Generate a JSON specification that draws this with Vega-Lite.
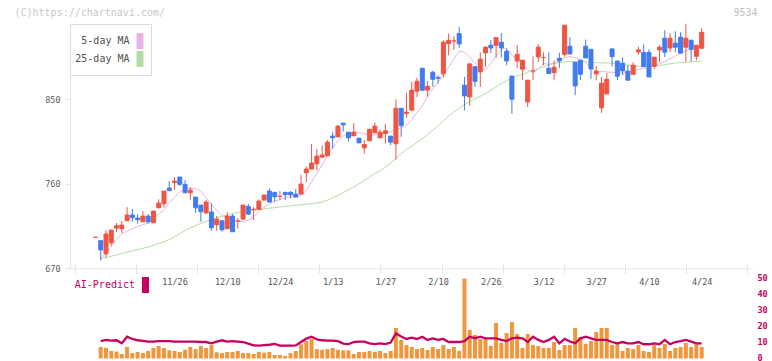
{
  "$schema": "https://vega.github.io/schema/vega-lite/v6.json",
  "width": 682,
  "height": 361,
  "autosize": {"type": "none"},
  "padding": {"left": 70, "top": 0, "right": 20, "bottom": 0},
  "background": "white",
  "config": {"view": {"stroke": null}, "axis": {"grid": false}},
  "data": {"values": [
    {"d":"11/4","i":-15,"o":703,"h":703.5,"l":702.5,"c":703},
    {"d":"11/5","i":-14,"o":699.4,"h":699.4,"l":678.1,"c":689.5,"v":7.2,"ai":10.9,"5-day MA":680.6,"25-day MA":680.5},
    {"d":"11/6","i":-13,"o":685.5,"h":710.7,"l":681.3,"c":706.5,"v":6.6,"ai":11.6,"5-day MA":686,"25-day MA":681.5},
    {"d":"11/7","i":-12,"o":697.2,"h":710.7,"l":694.1,"c":710.7,"v":4.7,"ai":11.2,"5-day MA":693,"25-day MA":682.8},
    {"d":"11/10","i":-11,"o":712.8,"h":718.2,"l":708.3,"c":715.3,"v":4.3,"ai":11.4,"5-day MA":701,"25-day MA":684.3},
    {"d":"11/11","i":-10,"o":712.1,"h":720.3,"l":707.5,"c":716,"v":2.8,"ai":9.5,"5-day MA":706.5,"25-day MA":685.8},
    {"d":"11/12","i":-9,"o":720.6,"h":735.2,"l":720.6,"c":726.7,"v":7.2,"ai":13.6,"5-day MA":709.5,"25-day MA":687.2},
    {"d":"11/13","i":-8,"o":726.7,"h":733,"l":719.5,"c":723.8,"v":3.4,"ai":12.2,"5-day MA":712,"25-day MA":688.5},
    {"d":"11/14","i":-7,"o":723.5,"h":727.7,"l":717.4,"c":721.7,"v":4.1,"ai":11.4,"5-day MA":714.5,"25-day MA":689.8},
    {"d":"11/17","i":-6,"o":719.5,"h":730.9,"l":719.5,"c":725.6,"v":3.4,"ai":11,"5-day MA":716.2,"25-day MA":691.2},
    {"d":"11/18","i":-5,"o":725.6,"h":727.7,"l":717.4,"c":719.5,"v":4.7,"ai":10.6,"5-day MA":718.3,"25-day MA":692.8},
    {"d":"11/19","i":-4,"o":718.5,"h":730.9,"l":718.5,"c":730.9,"v":6.6,"ai":10.6,"5-day MA":722.5,"25-day MA":694.5},
    {"d":"11/20","i":-3,"o":734.4,"h":743.3,"l":734.4,"c":739.4,"v":7.8,"ai":10.8,"5-day MA":727.5,"25-day MA":696.5},
    {"d":"11/21","i":-2,"o":738.7,"h":752.2,"l":734.9,"c":752.2,"v":6.6,"ai":10.8,"5-day MA":732.5,"25-day MA":698.5},
    {"d":"11/25","i":-1,"o":755.4,"h":762.8,"l":752.5,"c":752.5,"v":5.1,"ai":10.8,"5-day MA":739.8,"25-day MA":700.5},
    {"d":"11/26","i":0,"o":761.4,"h":767.1,"l":753.6,"c":762.8,"v":4.7,"ai":10.6,"5-day MA":745.5,"25-day MA":703.5},
    {"d":"11/27","i":1,"o":767.1,"h":767.1,"l":757.8,"c":759.3,"v":4.1,"ai":10.6,"5-day MA":751.2,"25-day MA":707},
    {"d":"11/28","i":2,"o":759.3,"h":763.9,"l":750.4,"c":750.4,"v":5.5,"ai":10.6,"5-day MA":754.2,"25-day MA":710},
    {"d":"12/1","i":3,"o":750.4,"h":756.4,"l":742.9,"c":753.2,"v":7.2,"ai":10.6,"5-day MA":755.1,"25-day MA":713},
    {"d":"12/2","i":4,"o":745.8,"h":745.8,"l":729.1,"c":734.4,"v":5.9,"ai":10.6,"5-day MA":754.7,"25-day MA":715.5},
    {"d":"12/3","i":5,"o":737.3,"h":737.3,"l":719.5,"c":730.2,"v":7.8,"ai":10.3,"5-day MA":751.7,"25-day MA":717.8},
    {"d":"12/4","i":6,"o":728.8,"h":742.6,"l":728.8,"c":740.5,"v":6.6,"ai":10.3,"5-day MA":745,"25-day MA":720},
    {"d":"12/5","i":7,"o":729.9,"h":739.4,"l":710,"c":713.2,"v":8.4,"ai":9.5,"5-day MA":738,"25-day MA":722},
    {"d":"12/8","i":8,"o":716.4,"h":725.6,"l":710,"c":722.4,"v":3.9,"ai":10.6,"5-day MA":731.5,"25-day MA":724},
    {"d":"12/9","i":9,"o":720.6,"h":720.6,"l":708.9,"c":711,"v":3.4,"ai":11.4,"5-day MA":726.2,"25-day MA":725.5},
    {"d":"12/10","i":10,"o":712.1,"h":729.9,"l":712.1,"c":725.6,"v":4.1,"ai":10.6,"5-day MA":723.3,"25-day MA":726.8},
    {"d":"12/11","i":11,"o":725.6,"h":727.7,"l":708.9,"c":708.9,"v":4.1,"ai":10.9,"5-day MA":721,"25-day MA":728.2},
    {"d":"12/12","i":12,"o":720.3,"h":723.5,"l":712.1,"c":720.3,"v":4.7,"ai":10.6,"5-day MA":720,"25-day MA":729.3},
    {"d":"12/15","i":13,"o":722.4,"h":737.3,"l":721.4,"c":737.3,"v":3.4,"ai":10.3,"5-day MA":719.7,"25-day MA":730},
    {"d":"12/16","i":14,"o":735.9,"h":738.4,"l":726.7,"c":727.7,"v":3.4,"ai":9.3,"5-day MA":721,"25-day MA":730.8},
    {"d":"12/17","i":15,"o":732.7,"h":735,"l":721.4,"c":732.7,"v":2.8,"ai":8.2,"5-day MA":725,"25-day MA":731.8},
    {"d":"12/18","i":16,"o":732.7,"h":743.3,"l":732.7,"c":741.5,"v":4.1,"ai":8,"5-day MA":730,"25-day MA":732.6},
    {"d":"12/19","i":17,"o":742.6,"h":748,"l":742.6,"c":748,"v":3.6,"ai":8.4,"5-day MA":735,"25-day MA":733.3},
    {"d":"12/22","i":18,"o":752.2,"h":755.1,"l":740.5,"c":740.5,"v":4.1,"ai":8.6,"5-day MA":738.5,"25-day MA":734},
    {"d":"12/23","i":19,"o":750.8,"h":750.8,"l":740.5,"c":746.1,"v":2.2,"ai":9.1,"5-day MA":741.5,"25-day MA":734.6},
    {"d":"12/24","i":20,"o":746.6,"h":752.2,"l":742.6,"c":746.6,"v":2.2,"ai":8,"5-day MA":743,"25-day MA":735.2},
    {"d":"12/25","i":21,"o":750.8,"h":750.8,"l":742.6,"c":748.3,"v":1.6,"ai":8,"5-day MA":745,"25-day MA":735.8},
    {"d":"12/26","i":22,"o":750.8,"h":752.2,"l":744.4,"c":748.3,"v":3.4,"ai":8,"5-day MA":746,"25-day MA":736.4},
    {"d":"12/29","i":23,"o":749,"h":754.3,"l":745.8,"c":745.8,"v":4.7,"ai":8.2,"5-day MA":746.2,"25-day MA":737},
    {"d":"12/30","i":24,"o":749,"h":769.5,"l":749,"c":759.6,"v":8.9,"ai":10.3,"5-day MA":747.5,"25-day MA":737.6},
    {"d":"1/5","i":25,"o":771.7,"h":778.4,"l":761.8,"c":775.6,"v":10.9,"ai":12.4,"5-day MA":753,"25-day MA":738.2},
    {"d":"1/6","i":26,"o":775.6,"h":802.2,"l":775.6,"c":782,"v":12.2,"ai":13.6,"5-day MA":762,"25-day MA":738.8},
    {"d":"1/7","i":27,"o":781.2,"h":796.9,"l":774.2,"c":789.4,"v":5.9,"ai":12,"5-day MA":771,"25-day MA":739.5},
    {"d":"1/8","i":28,"o":788.3,"h":800.8,"l":788.3,"c":790.5,"v":5.5,"ai":11.4,"5-day MA":780,"25-day MA":740.5},
    {"d":"1/9","i":29,"o":789.7,"h":806.4,"l":789.7,"c":804.3,"v":5.9,"ai":11.2,"5-day MA":790,"25-day MA":742.5},
    {"d":"1/13","i":30,"o":810.7,"h":814.9,"l":797.2,"c":808.9,"v":6.6,"ai":11.2,"5-day MA":798,"25-day MA":745},
    {"d":"1/14","i":31,"o":809.9,"h":822.7,"l":809.9,"c":821.3,"v":5.5,"ai":10.8,"5-day MA":806,"25-day MA":747.5},
    {"d":"1/15","i":32,"o":824.5,"h":824.5,"l":815.6,"c":822.7,"v":5.1,"ai":9.3,"5-day MA":811,"25-day MA":750.5},
    {"d":"1/16","i":33,"o":814.9,"h":814.9,"l":805,"c":808.9,"v":5.1,"ai":9,"5-day MA":813.5,"25-day MA":753.5},
    {"d":"1/19","i":34,"o":811,"h":824.5,"l":811,"c":814.9,"v":2.8,"ai":10.3,"5-day MA":815,"25-day MA":756.5},
    {"d":"1/20","i":35,"o":808.5,"h":808.5,"l":803.5,"c":803.5,"v":4.1,"ai":10.5,"5-day MA":814.5,"25-day MA":760},
    {"d":"1/21","i":36,"o":798.2,"h":806.4,"l":791.9,"c":801.8,"v":4.1,"ai":10.6,"5-day MA":813,"25-day MA":763.5},
    {"d":"1/22","i":37,"o":805.9,"h":818,"l":804.9,"c":818,"v":4.7,"ai":9.5,"5-day MA":812,"25-day MA":767},
    {"d":"1/23","i":38,"o":814.2,"h":825.2,"l":814.2,"c":821.3,"v":4.1,"ai":9,"5-day MA":812,"25-day MA":771},
    {"d":"1/26","i":39,"o":808.9,"h":818,"l":808.9,"c":814.9,"v":4.7,"ai":9.5,"5-day MA":813,"25-day MA":773.5},
    {"d":"1/27","i":40,"o":813.5,"h":823.4,"l":802.9,"c":816.3,"v":3.4,"ai":9,"5-day MA":814,"25-day MA":777.5},
    {"d":"1/28","i":41,"o":810.7,"h":810.7,"l":801.1,"c":804.3,"v":4.7,"ai":10,"5-day MA":815.5,"25-day MA":782},
    {"d":"1/29","i":42,"o":802.5,"h":850,"l":785.7,"c":840.3,"v":19.1,"ai":15.7,"5-day MA":818,"25-day MA":787},
    {"d":"1/30","i":43,"o":840.3,"h":840.3,"l":809.9,"c":821.9,"v":11.6,"ai":13.8,"5-day MA":819.5,"25-day MA":792},
    {"d":"2/2","i":44,"o":834.8,"h":856.7,"l":830.1,"c":836.2,"v":8.4,"ai":12.2,"5-day MA":822,"25-day MA":796.5},
    {"d":"2/3","i":45,"o":838.3,"h":868.4,"l":838.3,"c":859.6,"v":7.2,"ai":13,"5-day MA":828,"25-day MA":800},
    {"d":"2/4","i":46,"o":858.5,"h":872.7,"l":852.4,"c":869.1,"v":5.9,"ai":12.2,"5-day MA":836,"25-day MA":804},
    {"d":"2/5","i":47,"o":882.9,"h":882.9,"l":858.5,"c":859.6,"v":6.6,"ai":13.6,"5-day MA":843,"25-day MA":808},
    {"d":"2/6","i":48,"o":859.6,"h":869.5,"l":852.4,"c":863.8,"v":5.3,"ai":11.6,"5-day MA":853,"25-day MA":812},
    {"d":"2/9","i":49,"o":878.7,"h":880.1,"l":863.1,"c":871.2,"v":7.2,"ai":12.6,"5-day MA":861,"25-day MA":817},
    {"d":"2/10","i":50,"o":873.1,"h":875.5,"l":866.7,"c":872.3,"v":5.9,"ai":11.6,"5-day MA":868,"25-day MA":822},
    {"d":"2/12","i":51,"o":876.9,"h":912.7,"l":873.1,"c":910.6,"v":8.4,"ai":12.2,"5-day MA":876,"25-day MA":827},
    {"d":"2/13","i":52,"o":909.1,"h":919.8,"l":896.5,"c":912.7,"v":5.9,"ai":10.3,"5-day MA":884,"25-day MA":832},
    {"d":"2/16","i":53,"o":912,"h":917.3,"l":902.4,"c":912,"v":7.2,"ai":10.3,"5-day MA":893,"25-day MA":836.5},
    {"d":"2/17","i":54,"o":919.8,"h":926.9,"l":904.5,"c":908.8,"v":4.7,"ai":10.3,"5-day MA":901,"25-day MA":840.5},
    {"d":"2/18","i":55,"o":864.9,"h":873.7,"l":838,"c":853.5,"v":50,"ai":10.9,"5-day MA":900,"25-day MA":844},
    {"d":"2/19","i":56,"o":852.4,"h":888.5,"l":842.9,"c":887.5,"v":17.8,"ai":13.6,"5-day MA":895,"25-day MA":847.5},
    {"d":"2/20","i":57,"o":884.6,"h":884.6,"l":863.1,"c":869,"v":14.7,"ai":12.6,"5-day MA":888,"25-day MA":850.5},
    {"d":"2/24","i":58,"o":879.1,"h":899.7,"l":863.1,"c":892.6,"v":12.2,"ai":13.6,"5-day MA":882.5,"25-day MA":853},
    {"d":"2/25","i":59,"o":899.3,"h":906,"l":884.4,"c":905.3,"v":12.2,"ai":12.6,"5-day MA":881.5,"25-day MA":856},
    {"d":"2/26","i":60,"o":907.4,"h":913.1,"l":899,"c":904.5,"v":7.8,"ai":12.6,"5-day MA":888,"25-day MA":859.5},
    {"d":"2/27","i":61,"o":907.3,"h":915.5,"l":894.4,"c":915.5,"v":22.2,"ai":12.6,"5-day MA":896,"25-day MA":863},
    {"d":"3/2","i":62,"o":910.6,"h":920.2,"l":894.7,"c":904.5,"v":9.7,"ai":11.6,"5-day MA":903,"25-day MA":866.5},
    {"d":"3/3","i":63,"o":901,"h":903.8,"l":886.2,"c":890.7,"v":15.9,"ai":10.9,"5-day MA":904,"25-day MA":869.5},
    {"d":"3/4","i":64,"o":874.4,"h":875.5,"l":834.4,"c":850,"v":22.8,"ai":12.6,"5-day MA":897,"25-day MA":872.5},
    {"d":"3/5","i":65,"o":890.7,"h":907.4,"l":883.3,"c":897.8,"v":15.3,"ai":13,"5-day MA":891.5,"25-day MA":874.5},
    {"d":"3/6","i":66,"o":881.9,"h":891.5,"l":870.5,"c":891.5,"v":6.6,"ai":12.6,"5-day MA":887,"25-day MA":876.5},
    {"d":"3/9","i":67,"o":847.1,"h":870.2,"l":841.8,"c":870.2,"v":15.3,"ai":10.3,"5-day MA":881,"25-day MA":878.5},
    {"d":"3/10","i":68,"o":880.1,"h":895.7,"l":870.5,"c":880.1,"v":8.4,"ai":13.6,"5-day MA":878,"25-day MA":880.5},
    {"d":"3/11","i":69,"o":895,"h":908.5,"l":889.6,"c":905.3,"v":7.8,"ai":11.6,"5-day MA":882,"25-day MA":882.5},
    {"d":"3/12","i":70,"o":894.4,"h":899.7,"l":886.2,"c":894.4,"v":6.6,"ai":10.3,"5-day MA":888,"25-day MA":884.5},
    {"d":"3/13","i":71,"o":882.9,"h":899.7,"l":877.3,"c":877.3,"v":6.6,"ai":11.6,"5-day MA":887,"25-day MA":886.5},
    {"d":"3/16","i":72,"o":878.3,"h":891.5,"l":870.1,"c":884,"v":10.3,"ai":13.6,"5-day MA":888.5,"25-day MA":888},
    {"d":"3/17","i":73,"o":893.6,"h":899.4,"l":883.3,"c":890.7,"v":5.3,"ai":9.5,"5-day MA":890.5,"25-day MA":889},
    {"d":"3/18","i":74,"o":897.8,"h":928.7,"l":895.3,"c":928.7,"v":8.4,"ai":12.2,"5-day MA":894,"25-day MA":889.7},
    {"d":"3/19","i":75,"o":906.3,"h":915.9,"l":898.1,"c":898.1,"v":8.4,"ai":10.6,"5-day MA":895.5,"25-day MA":890},
    {"d":"3/23","i":76,"o":889.3,"h":889.3,"l":854.2,"c":864.1,"v":19.1,"ai":9.5,"5-day MA":894,"25-day MA":890.3},
    {"d":"3/24","i":77,"o":891.5,"h":891.5,"l":870.5,"c":876.5,"v":13.4,"ai":12.6,"5-day MA":892.5,"25-day MA":890.4},
    {"d":"3/25","i":78,"o":906.3,"h":913.4,"l":893.9,"c":893.9,"v":9.1,"ai":13.6,"5-day MA":889,"25-day MA":890},
    {"d":"3/26","i":79,"o":903.1,"h":903.1,"l":871.6,"c":882.2,"v":10.9,"ai":12.6,"5-day MA":883,"25-day MA":889.3},
    {"d":"3/27","i":80,"o":876.9,"h":885.1,"l":870.1,"c":879.8,"v":16.6,"ai":11.6,"5-day MA":880,"25-day MA":888.8},
    {"d":"3/30","i":81,"o":840.8,"h":873.7,"l":835.4,"c":867,"v":19.1,"ai":11.6,"5-day MA":879.5,"25-day MA":888.6},
    {"d":"3/31","i":82,"o":855.6,"h":877.6,"l":855.6,"c":871.2,"v":19.1,"ai":11.6,"5-day MA":879,"25-day MA":888.5},
    {"d":"4/1","i":83,"o":903.5,"h":903.5,"l":884.7,"c":895.3,"v":8.4,"ai":10.3,"5-day MA":878.5,"25-day MA":888.4},
    {"d":"4/2","i":84,"o":890.6,"h":890.6,"l":870.2,"c":874.4,"v":9.1,"ai":9.5,"5-day MA":878,"25-day MA":887.8},
    {"d":"4/3","i":85,"o":888.3,"h":894.7,"l":875.5,"c":880.1,"v":4.7,"ai":10.3,"5-day MA":877.8,"25-day MA":887},
    {"d":"4/6","i":86,"o":879.8,"h":886.2,"l":870.2,"c":870.2,"v":6.6,"ai":9.5,"5-day MA":878.5,"25-day MA":886.3},
    {"d":"4/7","i":87,"o":876.5,"h":889.3,"l":876.5,"c":886.2,"v":5.9,"ai":9.5,"5-day MA":880,"25-day MA":885.6},
    {"d":"4/8","i":88,"o":900.3,"h":905.6,"l":896.8,"c":902.4,"v":8.4,"ai":10.3,"5-day MA":881.5,"25-day MA":885},
    {"d":"4/9","i":89,"o":899.8,"h":908.4,"l":884.9,"c":884.9,"v":4.7,"ai":8.9,"5-day MA":883,"25-day MA":884.5},
    {"d":"4/10","i":90,"o":899.8,"h":903.1,"l":873.6,"c":873.6,"v":4.1,"ai":8.9,"5-day MA":883.5,"25-day MA":884.5},
    {"d":"4/13","i":91,"o":884.9,"h":894.7,"l":881.9,"c":894.7,"v":8.4,"ai":9.5,"5-day MA":885.5,"25-day MA":885.2},
    {"d":"4/14","i":92,"o":902.4,"h":907.4,"l":889.6,"c":905.3,"v":6.6,"ai":8.9,"5-day MA":888,"25-day MA":886},
    {"d":"4/15","i":93,"o":914.9,"h":923.4,"l":894.7,"c":900,"v":9.1,"ai":11.6,"5-day MA":890,"25-day MA":886.8},
    {"d":"4/16","i":94,"o":904.5,"h":920.2,"l":900.3,"c":914.9,"v":4.7,"ai":8.9,"5-day MA":893,"25-day MA":887.6},
    {"d":"4/17","i":95,"o":909.6,"h":922.3,"l":900,"c":905.3,"v":6.6,"ai":10.3,"5-day MA":896,"25-day MA":888.4},
    {"d":"4/20","i":96,"o":916,"h":921.3,"l":899,"c":899,"v":7.2,"ai":10.9,"5-day MA":899,"25-day MA":889},
    {"d":"4/21","i":97,"o":905.3,"h":929.7,"l":889.8,"c":914.9,"v":9.7,"ai":11.6,"5-day MA":901.5,"25-day MA":889.4},
    {"d":"4/22","i":98,"o":912.8,"h":912.8,"l":890.2,"c":903.1,"v":7.2,"ai":10.6,"5-day MA":903.5,"25-day MA":889.7},
    {"d":"4/23","i":99,"o":895.7,"h":907.4,"l":891.5,"c":907.4,"v":9.1,"ai":9.5,"5-day MA":905.5,"25-day MA":890},
    {"d":"4/24","i":100,"o":904.2,"h":925.5,"l":904.2,"c":921.2,"v":7.2,"ai":9.5,"5-day MA":909,"25-day MA":890.4}
  ]},
  "layer": [
    {
      "transform": [{"fold": ["5-day MA", "25-day MA"], "as": ["series", "ma"]}],
      "mark": {"type": "line", "strokeWidth": 1},
      "encoding": {
        "x": {"field": "i", "type": "quantitative", "scale": {"domain": [-18.879, 108.598], "nice": false, "zero": false},
          "axis": {"orient": "bottom", "offset": -92.7, "values": [-18.879, -7.29, 4.299, 15.888, 27.477, 39.066, 50.655, 62.244, 73.833, 85.422, 97.011, 108.59],
            "labels": false, "domain": false, "tickColor": "#e4e4e4", "tickSize": -4, "title": null, "grid": false}},
        "y": {"field": "ma", "type": "quantitative", "scale": {"domain": [670, 930], "range": [268.3, 24], "nice": false, "zero": false}, "axis": null},
        "color": {
          "field": "series", "type": "nominal",
          "scale": {"domain": ["5-day MA", "25-day MA"], "range": ["#e8b4e8", "#b4dca4"]},
          "legend": {
            "orient": "none", "legendX": 0, "legendY": 24, "title": " ", "titleFontSize": 1, "titlePadding": 2,
            "direction": "vertical",
            "symbolType": "M-0.4,-1H0.4V1H-0.4Z", "symbolSize": 225, "symbolStrokeWidth": 1, "symbolStrokeColor": "#505050",
            "labelAlign": "right", "labelOffset": -18.5, "symbolOffset": 56,
            "labelFont": "DejaVu Sans Mono", "labelFontSize": 10, "labelColor": "#505050", "labelBaseline": "middle",
            "padding": 6, "rowPadding": -4.5, "strokeColor": "#dcdcdc", "fillColor": "white",
            "encode": {"symbols": {"update": {
              "fill": [{"test": "datum.value === '5-day MA'", "value": "#e8b4e8"}, {"value": "#b4dca4"}],
              "stroke": {"value": "#505050"}, "strokeWidth": {"value": 1}, "opacity": {"value": 1}}}}
          }
        }
      }
    },
    {
      "mark": {"type": "rule", "strokeWidth": 1},
      "encoding": {
        "x": {"field": "i", "type": "quantitative", "scale": {"domain": [-18.879, 108.598], "nice": false, "zero": false},
          "axis": {"orient": "bottom", "offset": -92.7, "values": [-18.879, -7.29, 4.299, 15.888, 27.477, 39.066, 50.655, 62.244, 73.833, 85.422, 97.011, 108.59],
            "labels": false, "domainColor": "#e4e4e4", "tickColor": "#e4e4e4", "tickSize": 5, "title": null, "grid": false}},
        "y": {"field": "l", "type": "quantitative", "scale": {"domain": [670, 930], "range": [268.3, 24], "nice": false, "zero": false},
          "axis": {"orient": "left", "values": [670, 760, 850], "domainColor": "#e4e4e4", "tickColor": "#e4e4e4", "tickSize": 5,
            "labelColor": "#606060", "labelFont": "DejaVu Sans Mono", "labelFontSize": 8.5, "labelPadding": 5, "grid": false,
            "title": "(C)https://chartnavi.com/", "titleX": -56, "titleY": 12, "titleAngle": 0, "titleAlign": "left", "titleBaseline": "middle",
            "titleColor": "#c8c8c8", "titleFont": "DejaVu Sans Mono", "titleFontSize": 10, "titleFontWeight": "normal"}},
        "y2": {"field": "h"},
        "color": {"condition": {"test": "datum.c >= datum.o", "value": "#f05442"}, "value": "#427bf0"}
      }
    },
    {
      "mark": {"type": "bar", "width": 4, "strokeWidth": 1},
      "encoding": {
        "x": {"field": "i", "type": "quantitative", "scale": {"domain": [-18.879, 108.598], "nice": false, "zero": false},
          "axis": {"orient": "bottom", "offset": -92.7, "values": [0, 10, 20, 30, 40, 50, 60, 70, 80, 90, 100],
            "labelExpr": "['11/26','12/10','12/24','1/13','1/27','2/10','2/26','3/12','3/27','4/10','4/24'][round(datum.value/10)]",
            "domain": false, "ticks": false, "labelPadding": 9, "labelColor": "#555555", "labelFont": "DejaVu Sans Mono", "labelFontSize": 8.5,
            "labelOverlap": false, "labelFlush": false, "labelBound": false, "title": null, "grid": false}},
        "y": {"field": "o", "type": "quantitative", "scale": {"domain": [670, 930], "range": [268.3, 24], "nice": false, "zero": false}, "axis": null},
        "y2": {"field": "c"},
        "color": {"condition": {"test": "datum.c >= datum.o", "value": "#f05442"}, "value": "#427bf0"},
        "stroke": {"condition": {"test": "datum.c >= datum.o", "value": "#f05442"}, "value": "#427bf0"}
      }
    },
    {
      "mark": {"type": "bar", "width": 4, "color": "#f0963c"},
      "encoding": {
        "x": {"field": "i", "type": "quantitative", "scale": {"domain": [-18.879, 108.598], "nice": false, "zero": false}, "axis": null},
        "y": {"field": "v", "type": "quantitative", "scale": {"domain": [0, 50], "range": [358.5, 278.5], "nice": false},
          "axis": {"orient": "right", "values": [0, 10, 20, 30, 40, 50], "domain": false, "ticks": false, "labelPadding": 5, "labelOffset": -1.5,
            "labelColor": "#c8005f", "labelFont": "DejaVu Sans Mono", "labelFontSize": 8.5, "labelFontWeight": "bold", "grid": false,
            "title": "9534", "titleX": 5, "titleY": 12, "titleAngle": 0, "titleAlign": "right", "titleBaseline": "middle",
            "titleColor": "#c0c0c0", "titleFont": "DejaVu Sans Mono", "titleFontSize": 10, "titleFontWeight": "normal"}}
      }
    },
    {
      "mark": {"type": "line", "strokeWidth": 2.3},
      "encoding": {
        "x": {"field": "i", "type": "quantitative", "scale": {"domain": [-18.879, 108.598], "nice": false, "zero": false}, "axis": null},
        "y": {"field": "ai", "type": "quantitative", "scale": {"domain": [0, 50], "range": [358.5, 278.5], "nice": false}, "axis": null},
        "color": {
          "datum": "AI-Predict", "type": "nominal",
          "scale": {"domain": ["AI-Predict"], "range": ["#c8005f"]},
          "legend": {
            "orient": "none", "legendX": 5, "legendY": 277, "title": null,
            "symbolType": "M-0.4375,-1H0.4375V1H-0.4375Z", "symbolSize": 256, "symbolStrokeWidth": 0,
            "labelAlign": "right", "labelOffset": -18.5, "symbolOffset": 62.5,
            "labelFont": "DejaVu Sans Mono", "labelFontSize": 10, "labelColor": "#c8005f", "labelBaseline": "middle",
            "padding": 0,
            "encode": {"symbols": {"update": {"fill": {"value": "#c8005f"}, "strokeWidth": {"value": 0}, "opacity": {"value": 1}}}}
          }
        }
      }
    }
  ],
  "resolve": {"scale": {"y": "independent", "color": "independent"}, "axis": {"x": "independent"}}
}
